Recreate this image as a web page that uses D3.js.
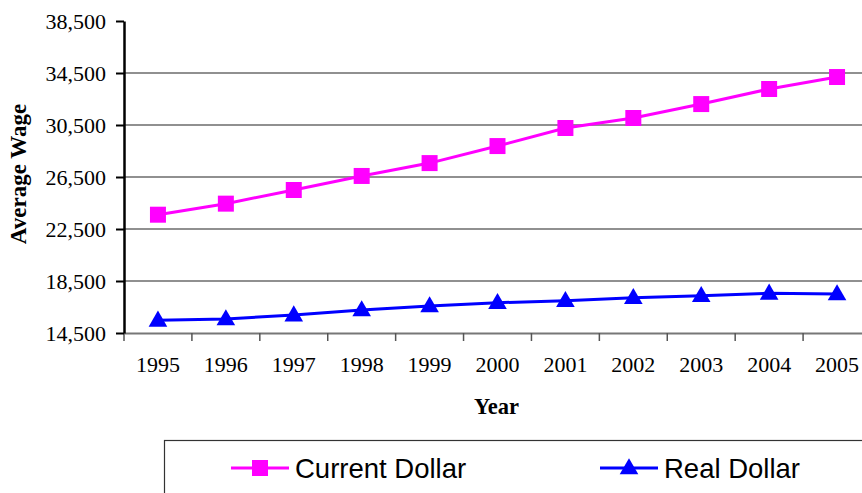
<!DOCTYPE html>
<html><head><meta charset="utf-8">
<script src="https://cdn.jsdelivr.net/npm/d3@7"></script>
<style>
body{margin:0;background:#fff;}
svg{display:block;}
</style></head>
<body>
<svg id="chart" width="862" height="493"></svg>
<script>
const years = ["1995","1996","1997","1998","1999","2000","2001","2002","2003","2004","2005"];
const currentDollar = [23600, 24450, 25500, 26580, 27570, 28880, 30270, 31040, 32110, 33270, 34190];
const realDollar = [15480, 15580, 15880, 16270, 16580, 16830, 16990, 17220, 17370, 17550, 17500];
const yTicks = [14500, 18500, 22500, 26500, 30500, 34500, 38500];
const seriesNames = ["Current Dollar", "Real Dollar"];

(function () {
const svg = d3.select("#chart");
const pL = 124, pR = 871, pT = 21, pB = 333;

const x = d3.scaleBand().domain(years).range([pL, pR]).paddingInner(0).paddingOuter(0);
const y = d3.scaleLinear().domain([14500, 38500]).range([pB, pT]);
const bw = x.bandwidth();

// gridlines
svg.append("g").selectAll("line").data(yTicks.filter(t => t !== 14500 && t !== 38500)).join("line")
  .attr("x1", pL).attr("x2", pR)
  .attr("y1", d => y(d)).attr("y2", d => y(d))
  .attr("stroke", "#222").attr("stroke-width", 1.2);

// x axis
const xAxis = svg.append("g").attr("transform", `translate(0,${pB})`)
  .call(d3.axisBottom(x).tickSize(8).tickPadding(15).tickSizeOuter(0));
xAxis.select(".domain").attr("stroke", "#777").attr("stroke-width", 2);
xAxis.selectAll(".tick line").attr("transform", `translate(${-bw/2},0)`).attr("stroke", "#555").attr("stroke-width", 1.5);
xAxis.selectAll(".tick text").attr("font-family", "Liberation Serif, Times New Roman, serif")
  .attr("font-size", 22).attr("fill", "#000");

// y axis
const yAxis = svg.append("g").attr("transform", `translate(${pL},0)`)
  .call(d3.axisLeft(y).tickValues(yTicks).tickFormat(d3.format(",")).tickSize(8).tickPadding(10).tickSizeOuter(0));
yAxis.select(".domain").attr("stroke", "#000").attr("stroke-width", 2.5);
yAxis.selectAll(".tick line").attr("stroke", "#000").attr("stroke-width", 2);
yAxis.selectAll(".tick text").attr("font-family", "Liberation Serif, Times New Roman, serif")
  .attr("font-size", 22).attr("fill", "#000");

// axis titles
svg.append("text").attr("transform", `translate(26,${(pT+pB)/2 - 3}) rotate(-90)`)
  .attr("text-anchor", "middle")
  .attr("font-family", "Liberation Serif, Times New Roman, serif").attr("font-weight", "bold")
  .attr("font-size", 23).text("Average Wage");
svg.append("text").attr("x", (pL+pR)/2 - 1).attr("y", 414)
  .attr("text-anchor", "middle")
  .attr("font-family", "Liberation Serif, Times New Roman, serif").attr("font-weight", "bold")
  .attr("font-size", 22.5).text("Year");

const cx = d => x(d) + bw/2;
const line = d3.line().x((d,i) => cx(years[i])).y(d => y(d));
const colors = ["#FF00FF", "#0000FF"];
const sq = d3.symbol().type(d3.symbolSquare).size(256);
const tri = d3.symbol().type(d3.symbolTriangle).size(150);

[currentDollar, realDollar].forEach((vals, si) => {
  svg.append("path").datum(vals).attr("d", line)
    .attr("fill", "none").attr("stroke", colors[si]).attr("stroke-width", 3);
  svg.append("g").selectAll("path").data(vals).join("path")
    .attr("transform", (d,i) => `translate(${cx(years[i])},${y(d) + (si === 1 ? 1 : 0)})`)
    .attr("d", si === 0 ? sq : tri)
    .attr("fill", colors[si]);
});

// legend
svg.append("rect").attr("x", 164.5).attr("y", 440.5).attr("width", 720).attr("height", 80)
  .attr("fill", "none").attr("stroke", "#333").attr("stroke-width", 1.2);
const legX = [231, 600];
seriesNames.forEach((name, si) => {
  const g = svg.append("g").attr("transform", `translate(${legX[si]},468)`);
  g.append("line").attr("x1", 0).attr("x2", 58).attr("y1", 0).attr("y2", 0)
    .attr("stroke", colors[si]).attr("stroke-width", 3);
  g.append("path").attr("transform", `translate(29,${si === 1 ? 1 : 0})`).attr("d", si === 0 ? sq : tri).attr("fill", colors[si]);
  g.append("text").attr("x", 64).attr("y", 10)
    .attr("font-family", "Liberation Sans, Arial, sans-serif").attr("font-size", 27.5)
    .attr("fill", "#000").text(name);
});
})();
</script>
</body></html>
